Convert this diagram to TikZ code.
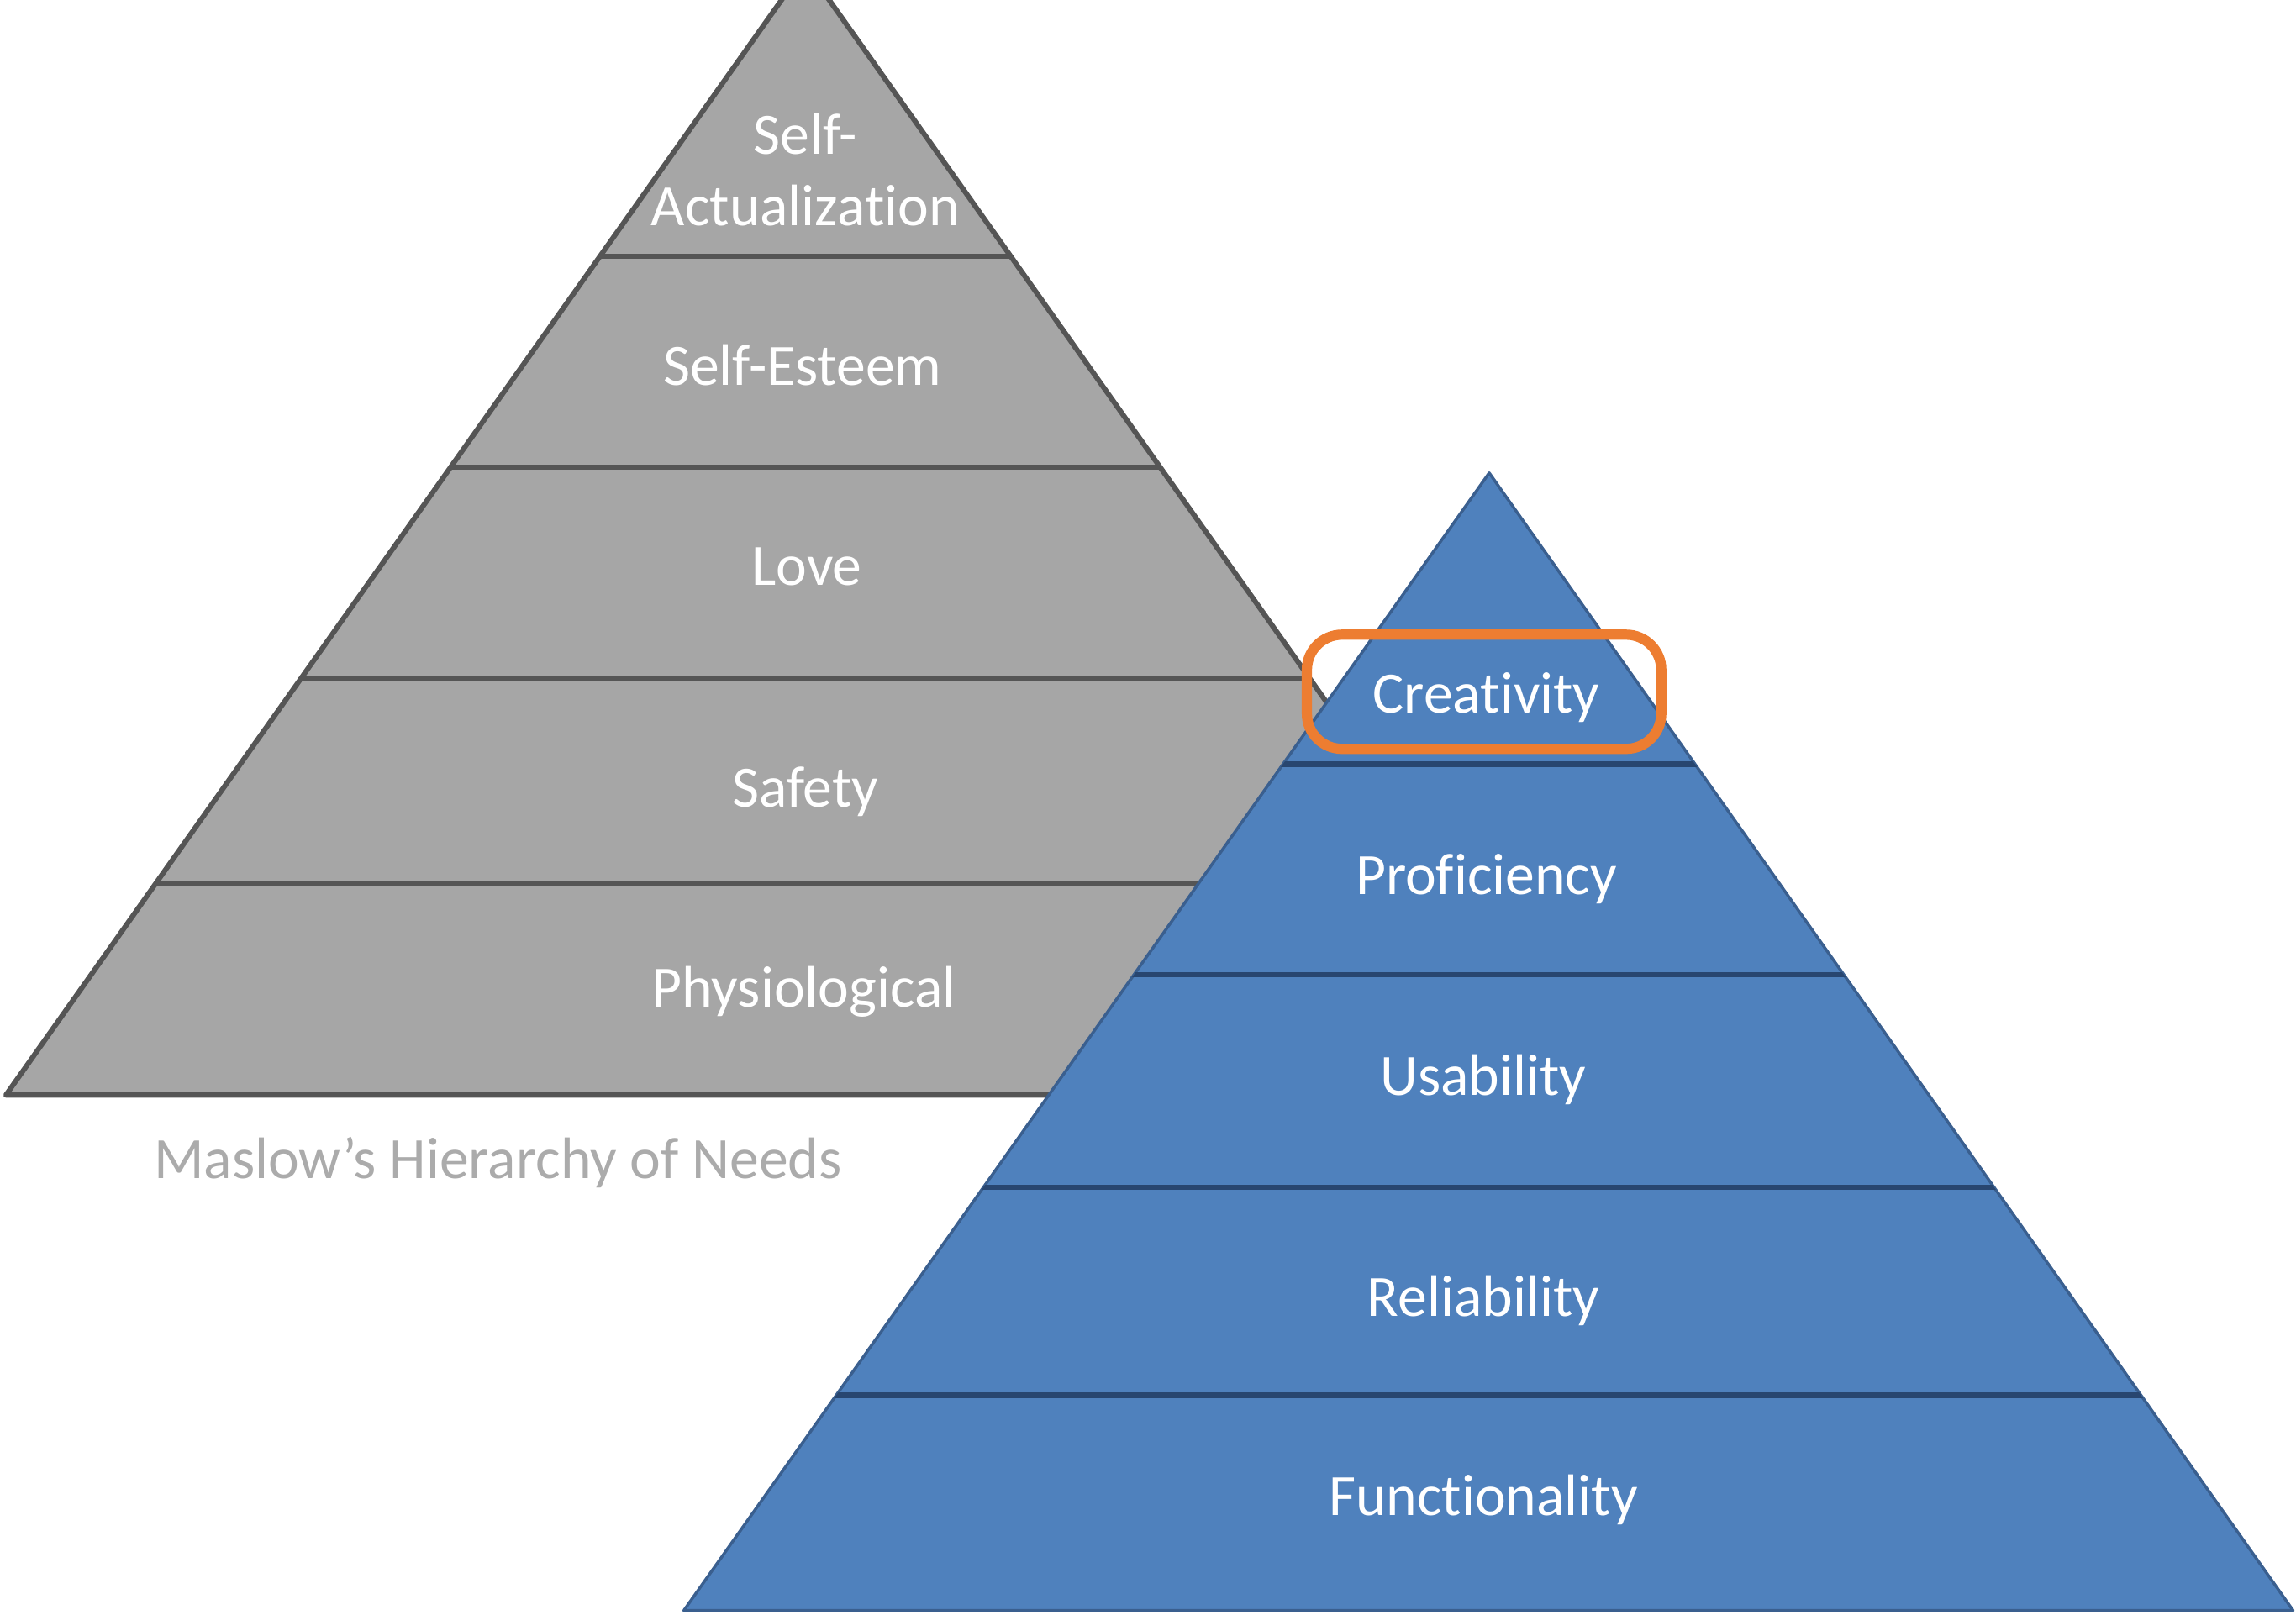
\documentclass[tikz,border=0pt]{standalone}
\usepackage{fontspec}
\setmainfont[RawFeature={-liga;-clig;-calt;-dlig}]{Carlito}
\definecolor{graypyr}{HTML}{A6A6A6}
\definecolor{grayline}{HTML}{555555}
\definecolor{bluepyr}{HTML}{4F81BD}
\definecolor{blueedge}{HTML}{3A5F8F}
\definecolor{bluediv}{HTML}{284670}
\definecolor{hlorange}{HTML}{ED7D31}
\definecolor{captiongray}{HTML}{ABABAB}
\begin{document}
\begin{tikzpicture}[x=1pt,y=-1pt,
  lbl/.style={text=white, font=\fontsize{40}{49}\selectfont, anchor=base, inner sep=0pt, align=center},
  caption/.style={text=captiongray, font=\fontsize{40}{49}\selectfont, anchor=base, inner sep=0pt},
  graydiv/.style={draw=grayline, line width=3.5pt},
  bluediv/.style={draw=bluediv, line width=3.5pt},
  hlbox/.style={draw=hlorange, line width=7pt, rounded corners=24pt, inner sep=0pt}]
\useasboundingbox (0,0) rectangle (1568,1103);
\fill[white] (0,0) rectangle (1568,1103);

% Maslow pyramid (gray)
\coordinate (gA) at (550,-23);
\coordinate (gL) at (4,748);
\coordinate (gR) at (1096,748);
\filldraw[fill=graypyr, draw=grayline, line width=3.5pt, line join=round] (gA) -- (gL) -- (gR) -- cycle;
\begin{scope}
  \clip (gA) -- (gL) -- (gR) -- cycle;
  \foreach \yy in {175,319,463,604} \draw[graydiv] (0,\yy) -- (1568,\yy);
\end{scope}

\node[lbl, anchor=center] (sa) at (550,116) {Self-\\Actualization};
\node[lbl] (se) at (548,263) {Self-Esteem};
\node[lbl] (lo) at (551,400) {Love};
\node[lbl] (sf) at (550,551) {Safety};
\node[lbl] (ph) at (549,688) {Physiological};
\node[caption] (cap) at (340,805) {Maslow’s Hierarchy of Needs};

% Software pyramid (blue)
\coordinate (bA) at (1017,323);
\coordinate (bL) at (467,1100);
\coordinate (bR) at (1566,1100);
\filldraw[fill=bluepyr, draw=blueedge, line width=2pt, line join=round] (bA) -- (bL) -- (bR) -- cycle;
\begin{scope}
  \clip (bA) -- (bL) -- (bR) -- cycle;
  \foreach \yy in {522,666,811,953} \draw[bluediv] (0,\yy) -- (1568,\yy);
\end{scope}

\node[lbl] (cr) at (1015,487) {Creativity};
\node[lbl] (pr) at (1015,611) {Proficiency};
\node[lbl] (us) at (1013,748) {Usability};
\node[lbl] (re) at (1013,899) {Reliability};
\node[lbl] (fu) at (1013,1035) {Functionality};

% highlight
\node[hlbox, minimum width=242pt, minimum height=78pt] (hl) at (1013.5,472.5) {};
\end{tikzpicture}
\end{document}
